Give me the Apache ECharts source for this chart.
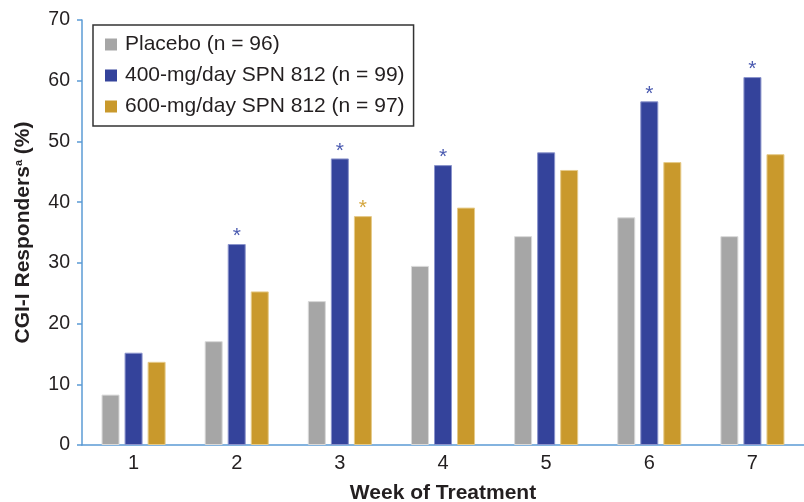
<!DOCTYPE html>
<html>
<head>
<meta charset="utf-8">
<script src="https://cdn.jsdelivr.net/npm/echarts@6/dist/echarts.min.js"></script>
<style>html,body{margin:0;padding:0;background:#fff}#c{width:804px;height:502px}</style>
</head>
<body>
<div id="c"></div>
<script>
var weeks = ['1','2','3','4','5','6','7'];
var placebo = [8.3, 17.1, 23.7, 29.5, 34.4, 37.5, 34.4];
var spn400 = [15.2, 33.1, 47.2, 46.1, 48.2, 56.6, 60.6];
var spn600 = [13.7, 25.3, 37.7, 39.1, 45.3, 46.6, 47.9];
var sig400 = [false, true, true, true, false, true, true];
var sig600 = [false, false, true, false, false, false, false];
var seriesNames = ['Placebo (n = 96)', '400-mg/day SPN 812 (n = 99)', '600-mg/day SPN 812 (n = 97)'];
var colors = ['#a6a6a6', '#34439b', '#c9992c'];

function withStars(vals, sig, color) {
  return vals.map(function (v, i) {
    if (!sig[i]) return v;
    return { value: v, label: { show: true, position: 'top', distance: -3, formatter: '*', color: color, fontSize: 21, fontFamily: 'Liberation Sans' } };
  });
}

var chart = echarts.init(document.getElementById('c'));
var font = 'Liberation Sans, Arial, sans-serif';
chart.setOption({
  animation: false,
  textStyle: { fontFamily: font },
  color: colors,
  grid: { left: 82, right: 0, top: 20, bottom: 57, containLabel: false, outerBoundsMode: 'none' },
  legend: {
    orient: 'vertical', left: 93, top: 25,
    borderColor: '#333', borderWidth: 1.5, padding: [9, 9, 9, 12],
    itemWidth: 12, itemHeight: 12, itemGap: 10,
    icon: 'rect',
    itemStyle: { borderWidth: 0 },
    textStyle: { fontSize: 21, color: '#231f20', fontFamily: font, padding: [0, 0, 0, 3] },
    data: seriesNames
  },
  xAxis: {
    type: 'category', data: weeks,
    name: 'Week of Treatment', nameLocation: 'middle', nameGap: 38,
    nameTextStyle: { fontSize: 21, fontWeight: 'bold', color: '#231f20', fontFamily: font },
    axisLine: { lineStyle: { color: '#5b9bd5', width: 1.5 } },
    axisTick: { show: false },
    axisLabel: { fontSize: 20, color: '#231f20', margin: 8, fontFamily: font }
  },
  yAxis: {
    type: 'value', min: 0, max: 70, interval: 10,
    name: 'CGI-I Responders{sup|a} (%)', nameLocation: 'middle', nameGap: 48,
    nameTextStyle: { fontSize: 21, fontWeight: 'bold', color: '#231f20', fontFamily: font,
      rich: { sup: { fontSize: 11, fontWeight: 'bold', color: '#231f20', fontFamily: font, padding: [0, 0, 9, 0] } } },
    axisLine: { show: true, lineStyle: { color: '#5b9bd5', width: 1.5 } },
    axisTick: { show: true, length: 5, lineStyle: { color: '#5b9bd5', width: 1.5 } },
    splitLine: { show: false },
    axisLabel: { fontSize: 19.5, color: '#231f20', margin: 12, fontFamily: font }
  },
  series: [
    { name: seriesNames[0], type: 'bar', data: placebo, barWidth: 18, barGap: '28%',
      itemStyle: { color: colors[0], borderColor: '#d9d9d9', borderWidth: 1 } },
    { name: seriesNames[1], type: 'bar', data: withStars(spn400, sig400, '#4a5ab0'), barWidth: 18, barGap: '28%',
      itemStyle: { color: colors[1], borderColor: '#8b94cc', borderWidth: 1 } },
    { name: seriesNames[2], type: 'bar', data: withStars(spn600, sig600, '#d4a63e'), barWidth: 18, barGap: '28%',
      itemStyle: { color: colors[2], borderColor: '#e6cb8a', borderWidth: 1 } }
  ]
});
</script>
</body>
</html>
